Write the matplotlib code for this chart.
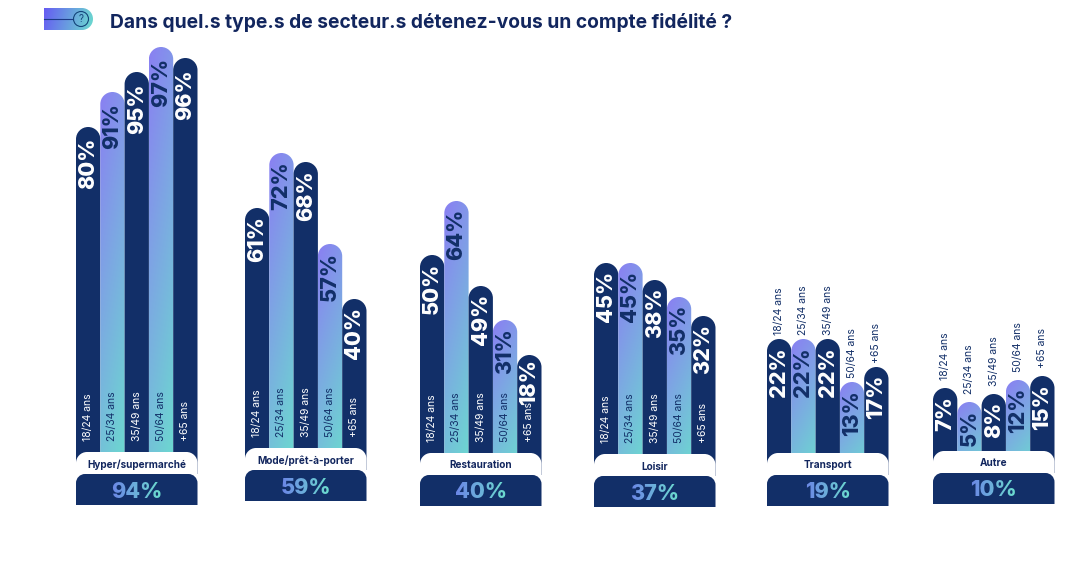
import numpy as np
import matplotlib
matplotlib.use('Agg')
import matplotlib.pyplot as plt
from matplotlib.patches import PathPatch, Circle
from matplotlib.path import Path

plt.rcParams['font.family'] = ['Inter', 'DejaVu Sans']

sectors = ['Hyper/supermarché', 'Mode/prêt-à-porter', 'Restauration', 'Loisir', 'Transport', 'Autre']
totals = ['94%', '59%', '40%', '37%', '19%', '10%']
ages = ['18/24 ans', '25/34 ans', '35/49 ans', '50/64 ans', '+65 ans']

hyper_values = [80, 91, 95, 97, 96]
mode_values = [61, 72, 68, 57, 40]
resto_values = [50, 64, 49, 31, 18]
loisir_values = [45, 45, 38, 35, 32]
transport_values = [22, 22, 22, 13, 17]
autre_values = [7, 5, 8, 12, 15]

# the bars are not to scale in the original, so drawn heights are read separately
hyper_heights = [325, 360, 380, 405, 394]
mode_heights = [240, 295, 286, 204, 149]
resto_heights = [198, 252, 167, 133, 98]
loisir_heights = [191, 191, 174, 157, 138]
transport_heights = [114, 114, 114, 71, 86]
autre_heights = [63, 49, 57, 71, 75]

all_values = [hyper_values, mode_values, resto_values, loisir_values, transport_values, autre_values]
all_heights = [hyper_heights, mode_heights, resto_heights, loisir_heights, transport_heights, autre_heights]

NAVY = '#122f68'
TITLE = '#12265e'
PURPLE = np.array([0.54, 0.50, 0.95])
TEAL = np.array([0.42, 0.86, 0.81])
BLUE = np.array([0.42, 0.53, 0.90])

group_left = [76, 245, 420, 594, 767, 933]
group_base = [452, 448, 453, 454, 453, 451]
BAR_W = 24.3
GROUP_W = 5 * BAR_W
K = 0.5523


def top_round_path(x, top, w, bottom, r):
    # rectangle with only the two top corners rounded (y axis points down)
    x2 = x + w
    verts = [(x, bottom), (x, top + r),
             (x, top + r - K * r), (x + r - K * r, top), (x + r, top),
             (x2 - r, top),
             (x2 - r + K * r, top), (x2, top + r - K * r), (x2, top + r),
             (x2, bottom), (x, bottom)]
    codes = [Path.MOVETO, Path.LINETO,
             Path.CURVE4, Path.CURVE4, Path.CURVE4,
             Path.LINETO,
             Path.CURVE4, Path.CURVE4, Path.CURVE4,
             Path.LINETO, Path.CLOSEPOLY]
    return Path(verts, codes)


def gradient(c1, c2, n=64, slant=0.25):
    yy, xx = np.mgrid[0:1:n * 1j, 0:1:n * 1j]
    t = np.clip((1 - slant) * yy + slant * xx, 0, 1)[..., None]
    return c1 * (1 - t) + c2 * t


def text_gradient(image, dpi):
    # paint the rendered glyphs from blue to teal, left to right
    out = image.copy()
    t = np.linspace(0, 1, image.shape[1])[None, :, None]
    out[..., :3] = BLUE * (1 - t) + TEAL * t
    return out, 0, 0


def draw_bar(ax, x, top, bottom, gradient_bar, z):
    patch = PathPatch(top_round_path(x, top, BAR_W, bottom, BAR_W / 2), fc=NAVY, ec='none', zorder=z)
    ax.add_patch(patch)
    if gradient_bar:
        patch.set_facecolor('none')
        img = ax.imshow(gradient(PURPLE, TEAL), extent=(x, x + BAR_W, bottom, top), aspect='auto', zorder=z)
        img.set_clip_path(patch)


def draw_group(ax, i):
    left = group_left[i]
    base = group_base[i]
    outside = i >= 4

    for j, (value, height) in enumerate(zip(all_values[i], all_heights[i])):
        x = left + j * BAR_W
        top = base - height
        light = j % 2 == 1
        draw_bar(ax, x, top, base + 22, light, 2 + j)
        color = NAVY if light else 'white'
        # tall bars leave more room on top, short inside bars leave room for the age label
        gap = 11 if height > 300 else 8
        if height < 100 and not outside:
            gap = 4
        ax.text(x + BAR_W / 2, top + gap, f'{value}%', rotation=90, ha='center', va='top',
                fontsize=15.5, fontweight='heavy', color=color, zorder=10)
        if outside:
            off = 4 if i == 4 else 8
            ax.text(x + BAR_W / 2, top - off, ages[j], rotation=90, ha='center', va='bottom',
                    fontsize=7.5, color=NAVY, zorder=10)
        else:
            ax.text(x + BAR_W / 2, base - 11, ages[j], rotation=90, ha='center', va='bottom',
                    fontsize=7.5, color=color, zorder=10)

    ax.add_patch(PathPatch(top_round_path(left, base, GROUP_W, base + 30, 11), fc='white', ec='none', zorder=12))
    ax.text(left + GROUP_W / 2, base + 12.5, sectors[i], ha='center', va='center',
            fontsize=7.2, fontweight='bold', color=TITLE, zorder=13)

    ax.add_patch(PathPatch(top_round_path(left, base + 22, GROUP_W, base + 53, 9), fc=NAVY, ec='none', zorder=14))
    pct = ax.text(left + GROUP_W / 2, base + 39.5, totals[i], ha='center', va='center',
                  fontsize=15.5, fontweight='heavy', color='#6fb0dc', zorder=15)
    pct.set_agg_filter(text_gradient)


def draw_header(ax):
    icon = ax.add_patch(PathPatch(top_round_path(44, 8, 49, 30, 0), fc='none', ec='none', zorder=2))
    end = Circle((82, 19), 11, fc='none', ec='none')
    ax.add_patch(end)
    colors = gradient(np.array([0.40, 0.36, 0.95]), TEAL, slant=0.9)
    img = ax.imshow(colors, extent=(44, 93, 30, 8), aspect='auto', zorder=2)
    img.set_clip_path(end)
    body = ax.imshow(colors[:, :50], extent=(44, 82, 30, 8), aspect='auto', zorder=2)
    body.set_clip_path(icon)
    ax.plot([44, 73], [19, 19], color='#1c3a86', lw=0.8, zorder=3)
    ax.add_patch(Circle((81, 19), 7.5, fc='none', ec='#14457a', lw=0.8, zorder=3))
    ax.text(81, 19.5, '?', ha='center', va='center', fontsize=7, color='#14457a', zorder=3)
    ax.text(110, 23, 'Dans quel.s type.s de secteur.s détenez-vous un compte fidélité ?',
            ha='left', va='center', fontsize=13.85, fontweight='bold', color=TITLE)


if __name__ == "__main__":
    fig = plt.figure(figsize=(10.79, 5.64), dpi=100)
    ax = fig.add_axes([0, 0, 1, 1])

    draw_header(ax)
    for i in range(len(sectors)):
        draw_group(ax, i)

    ax.set_xlim(0, 1079)
    ax.set_ylim(564, 0)
    ax.axis('off')
    fig.savefig('out.png', dpi=100)
